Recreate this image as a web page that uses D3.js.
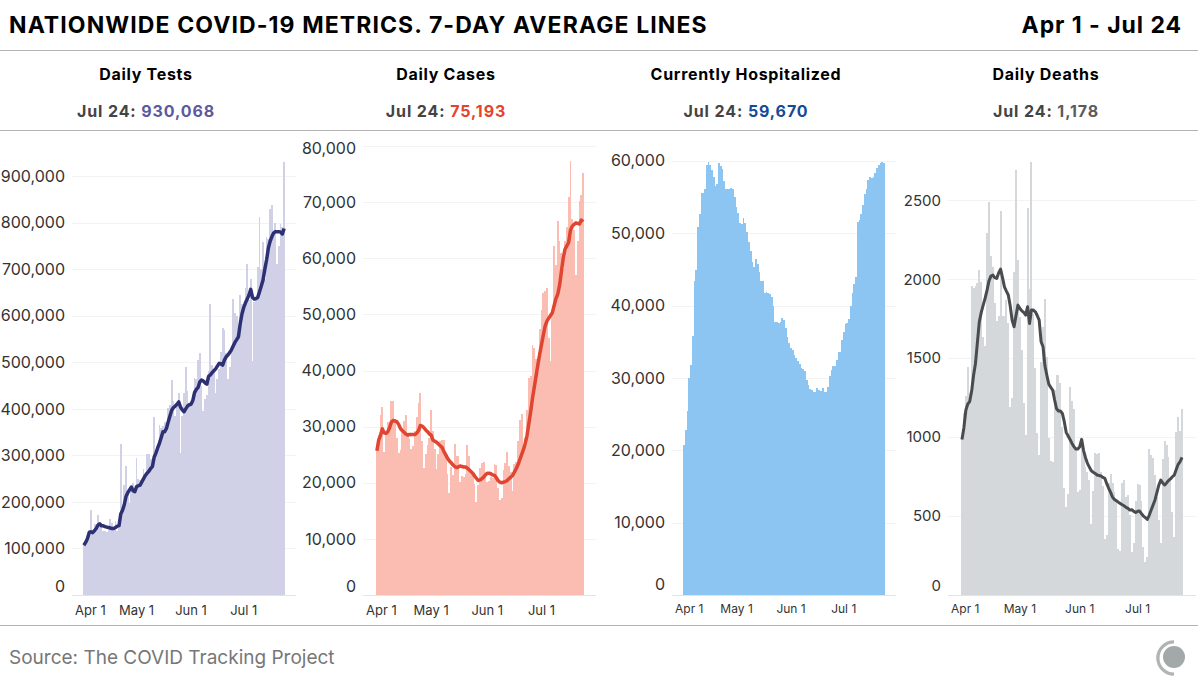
<!DOCTYPE html>
<html>
<head>
<meta charset="utf-8">
<title>Nationwide COVID-19 metrics</title>
<script src="https://cdn.jsdelivr.net/npm/d3@7"></script>
<style>
  html, body { margin: 0; background: #fff; }
  svg { display: block; font-family: Inter, sans-serif; }
  .rule { stroke: #b3b3b3; stroke-width: 1; shape-rendering: crispEdges; }
  .axis .domain { display: none; }
  .axis text { fill: #333; }
  .y.axis line { stroke: #f3f3f3; shape-rendering: crispEdges; }
  .y.axis .zero line { stroke: #e4e4e4; }
</style>
</head>
<body>
<svg id="chart" width="1198" height="687"></svg>
<script>
// Tick labels on the date axis. The days themselves are built further down.
const monthTicks = [ 'Apr 1', 'May 1', 'Jun 1', 'Jul 1' ];

// Values, one per day from Apr 1 to Jul 24.
const testsDaily = [
  107000, 118000, 125000, 140000, 183000, 135000, 152000, 153000, 172000, 155000,
  150000, 137000, 138000, 135000, 140000, 163000, 155000, 145000, 158000, 137000,
  160000, 325000, 190000, 236000, 278000, 225000, 197000, 235000, 240000, 222000,
  295000, 250000, 248000, 240000, 270000, 255000, 303000, 303000, 292000, 290000,
  383000, 305000, 320000, 365000, 360000, 363000, 372000, 350000, 402000, 408000,
  462000, 418000, 385000, 408000, 435000, 305000, 385000, 435000, 490000, 438000,
  410000, 410000, 430000, 467000, 465000, 505000, 520000, 450000, 395000, 422000,
  430000, 482000, 625000, 495000, 485000, 435000, 465000, 485000, 522000, 573000,
  570000, 520000, 465000, 490000, 525000, 637000, 607000, 600000, 560000, 645000,
  625000, 615000, 660000, 712000, 635000, 680000, 503000, 630000, 640000, 705000,
  812000, 700000, 758000, 680000, 770000, 765000, 830000, 838000, 770000, 800000,
  712000, 750000, 797000, 790000, 930068
];
const testsAverage = [
  107000, 113000, 121000, 134000, 136000, 134000, 138000, 143000, 150000, 153000,
  149000, 149000, 147000, 146000, 145000, 144000, 143000, 143000, 145000, 148000,
  149000, 174000, 182000, 194000, 212000, 220000, 226000, 232000, 224000, 222000,
  233000, 235000, 236000, 243000, 250000, 257000, 262000, 266000, 272000, 276000,
  296000, 305000, 316000, 326000, 338000, 351000, 351000, 358000, 372000, 385000,
  397000, 403000, 406000, 410000, 415000, 404000, 398000, 394000, 400000, 406000,
  409000, 410000, 418000, 435000, 442000, 446000, 458000, 462000, 460000, 456000,
  453000, 470000, 473000, 478000, 482000, 486000, 492000, 498000, 497000, 494000,
  505000, 512000, 516000, 521000, 527000, 535000, 543000, 549000, 555000, 583000,
  604000, 618000, 628000, 636000, 645000, 657000, 640000, 636000, 637000, 640000,
  652000, 664000, 677000, 700000, 720000, 745000, 760000, 770000, 778000, 781000,
  781000, 781000, 780000, 776000, 788000
];
const casesDaily = [
  26000, 28500, 32000, 33500, 25500, 29000, 30800, 30800, 34500, 34500,
  31000, 28000, 25300, 25800, 29000, 31000, 32000, 28500, 27800, 26000,
  26500, 29300, 31800, 34200, 36000, 27500, 22700, 25200, 26700, 28000,
  33000, 29200, 26000, 22500, 25200, 27500, 27600, 27700, 25000, 21500,
  18200, 22800, 21300, 26900, 24800, 24800, 20200, 21200, 21000, 21500,
  26700, 24700, 22000, 21700, 19700, 16600, 19600, 22700, 23500, 23700,
  21000, 20200, 20300, 21000, 20800, 23400, 23200, 19000, 17000, 17200,
  22200, 23500, 25400, 23000, 22000, 18500, 23400, 23700, 27500, 31200,
  32200, 26000, 28000, 33000, 38700, 39000, 44500, 44000, 42000, 40000,
  47400, 50700, 53800, 54200, 54700, 45800, 41700, 50000, 62200, 58800,
  66700, 63000, 61000, 58000, 63000, 65500, 71000, 77300, 67000, 65000,
  57000, 63000, 70200, 71200, 75193
];
const casesAverage = [
  25700, 27600, 28500, 29600, 28900, 28800, 29100, 29800, 30800, 31100,
  31000, 30900, 30400, 29700, 29300, 29000, 28700, 28500, 28600, 28600,
  28600, 28600, 28800, 29300, 30200, 30100, 29800, 29400, 29100, 28700,
  28500, 27600, 27400, 27200, 26900, 26600, 26300, 25600, 25000, 24400,
  23900, 23600, 23200, 22900, 22700, 22800, 23000, 22900, 22800, 22800,
  22600, 22300, 22000, 21700, 21200, 20800, 20400, 20500, 20700, 21000,
  21400, 21700, 21700, 21600, 21400, 21300, 20900, 20400, 20100, 20000,
  20100, 20200, 20400, 20700, 21000, 21300, 21900, 22500, 23200, 24100,
  25000, 25900, 27000, 28400, 30500, 32600, 35000, 37000, 39000, 41000,
  42900, 44600, 46300, 47900, 48800, 49300, 49800, 50300, 51600, 52800,
  53600, 55200, 57600, 60000, 61600, 62200, 62800, 65000, 65700, 66000,
  66300, 66200, 66100, 66800, 66500
];
const hospitalized = [
  20700, 22800, 25400, 30000, 31800, 35800, 43400, 45000, 50900, 52700,
  55600, 55600, 56100, 59500, 59900, 59400, 58800, 57800, 56500, 56800,
  59700, 59300, 58900, 57300, 56100, 56100, 56100, 56200, 56100, 55000,
  53600, 52800, 51400, 51300, 52100, 51400, 50200, 48800, 47600, 46100,
  45400, 46400, 45800, 44600, 43400, 43400, 41800, 41900, 41800, 41600,
  41200, 39900, 37800, 37700, 37600, 37700, 38300, 38000, 36900, 35600,
  34800, 34200, 33900, 33200, 32700, 32400, 31900, 31400, 31200, 31000,
  29700, 29000, 28500, 28400, 28000, 28100, 28600, 28300, 28200, 28600,
  28100, 28100, 28700, 30300, 31100, 31700, 31600, 32500, 33600, 33600,
  35200, 36300, 37500, 37600, 38100, 39900, 41700, 43000, 44000, 51500,
  51800, 52700, 53900, 55500, 56100, 57400, 57800, 57700, 57800, 58400,
  59000, 59400, 59700, 59900, 59670
];
const deathsDaily = [
  990, 1150, 1260, 1444, 1281, 1957, 1946, 1960, 1978, 2058,
  1984, 1636, 1577, 2290, 2490, 2147, 2075, 1847, 1737, 1767,
  2432, 1770, 1767, 1868, 1720, 1193, 1245, 2048, 2695, 2121,
  1758, 1552, 1214, 1013, 2451, 1936, 2740, 1780, 1435, 1028,
  887, 1478, 1700, 1872, 1509, 992, 851, 844, 1300, 1393,
  1393, 1340, 1066, 680, 559, 640, 1319, 1230, 1176, 930,
  654, 665, 970, 897, 813, 780, 728, 450, 658, 901,
  893, 901, 781, 690, 353, 380, 707, 766, 707, 654,
  600, 289, 281, 707, 728, 623, 633, 507, 272, 327,
  597, 703, 695, 597, 306, 211, 243, 925, 887, 866,
  760, 620, 475, 331, 861, 975, 950, 876, 740, 528,
  365, 1034, 1125, 1039, 1178
];
const deathsAverage = [
  985, 1060, 1170, 1210, 1225, 1290, 1390, 1467, 1600, 1731,
  1790, 1836, 1880, 1931, 1990, 2020, 2026, 2010, 2005, 2040,
  2064, 2010, 1952, 1925, 1900, 1830, 1740, 1699, 1770, 1836,
  1815, 1800, 1790, 1773, 1826, 1720, 1805, 1805, 1794, 1770,
  1741, 1604, 1572, 1450, 1390, 1335, 1315, 1298, 1235, 1180,
  1165, 1165, 1150, 1098, 1030, 1007, 985, 960, 940, 925,
  925, 939, 986, 915, 870, 834, 810, 787, 778, 770,
  760, 757, 754, 745, 739, 705, 676, 650, 620, 605,
  597, 588, 580, 572, 565, 555, 549, 538, 540, 530,
  523, 530, 532, 515, 500, 490, 479, 505, 538, 570,
  602, 650, 697, 728, 710, 697, 710, 725, 735, 749,
  760, 795, 828, 845, 872
];

// Y axis ticks for each panel.
const testsTicks  = [ 0, 100000, 200000, 300000, 400000, 500000, 600000, 700000, 800000, 900000 ];
const casesTicks  = [ 0, 10000, 20000, 30000, 40000, 50000, 60000, 70000, 80000 ];
const hospTicks   = [ 0, 10000, 20000, 30000, 40000, 50000, 60000 ];
const deathsTicks = [ 0, 500, 1000, 1500, 2000, 2500 ];

// Everything about the panels that is not data: where they sit and how they look.
const panels = [
  { title: 'Daily Tests', latest: '930,068', center: 146, bars: testsDaily, line: testsAverage, ticks: testsTicks, tickFormat: d3.format( ',' ),
    barLeft: 83, barRight: 285, gridLeft: 72, gridRight: 296, topTickY: 176.3, zeroDy: -9, topDy: 0,
    yFont: 16, xFont: 13, xLabelY: 610, barColor: '#d0d1e6', lineColor: '#2e3074', lineWidth: 3.5, latestColor: '#5a5a9e' },
  { title: 'Daily Cases', latest: '75,193', center: 446, bars: casesDaily, line: casesAverage, ticks: casesTicks, tickFormat: d3.format( ',' ),
    barLeft: 376, barRight: 584, gridLeft: 363, gridRight: 596, topTickY: 146, zeroDy: -9, topDy: 2,
    yFont: 16, xFont: 13, xLabelY: 610, barColor: '#fbbcb1', lineColor: '#df4531', lineWidth: 3.5, latestColor: '#e5432d' },
  { title: 'Currently Hospitalized', latest: '59,670', center: 746, bars: hospitalized, line: null, ticks: hospTicks, tickFormat: d3.format( ',' ),
    barLeft: 683, barRight: 885, gridLeft: 672, gridRight: 896, topTickY: 161, zeroDy: -11, topDy: -1,
    yFont: 16, xFont: 12, xLabelY: 609, barColor: '#8cc5f2', lineColor: null, lineWidth: 0, latestColor: '#164a96' },
  { title: 'Daily Deaths', latest: '1,178', center: 1046, bars: deathsDaily, line: deathsAverage, ticks: deathsTicks, tickFormat: d3.format( '' ),
    barLeft: 961, barRight: 1183, gridLeft: 948, gridRight: 1196, topTickY: 200.3, zeroDy: -9, topDy: 0,
    yFont: 15, xFont: 12, xLabelY: 609, barColor: '#d4d8da', lineColor: '#494c4f', lineWidth: 3, latestColor: '#595c5e' }
];

const baselineY = 595;
const labelDay  = d3.timeFormat( '%b %-d' );
const days      = d3.timeDay.range( new Date( 2020, 3, 1 ), new Date( 2020, 6, 25 ) ).map( labelDay );

const svg = d3.select( '#chart' );

// Draws the rules and the texts that frame the panels.
const drawFrame = ( ) => {
  [ 50, 130, 625 ].forEach( y => {
    svg.append( 'line' ).attr( 'class', 'rule' )
      .attr( 'x1', 0 ).attr( 'x2', 1198 ).attr( 'y1', y + 0.5 ).attr( 'y2', y + 0.5 );
  } );

  svg.append( 'text' )
    .attr( 'x', 9 ).attr( 'y', 33 )
    .attr( 'font-size', 23 ).attr( 'font-weight', 700 ).attr( 'letter-spacing', 1.1 )
    .attr( 'fill', '#000' )
    .text( 'NATIONWIDE COVID-19 METRICS. 7-DAY AVERAGE LINES' );

  svg.append( 'text' )
    .attr( 'x', 1182 ).attr( 'y', 33 ).attr( 'text-anchor', 'end' )
    .attr( 'font-size', 23 ).attr( 'font-weight', 700 ).attr( 'letter-spacing', 0.95 )
    .attr( 'fill', '#000' )
    .text( 'Apr 1 - Jul 24' );

  svg.append( 'text' )
    .attr( 'x', 9 ).attr( 'y', 664 )
    .attr( 'font-size', 19 ).attr( 'fill', '#777' )
    .text( 'Source: The COVID Tracking Project' );

  // The logo in the corner: a disc with an open ring round it.
  const logo = svg.append( 'g' ).attr( 'transform', 'translate( 1174, 658 )' );
  logo.append( 'path' )
    .attr( 'fill', '#b0b4b4' )
    .attr( 'd', d3.arc( )
      .innerRadius( 14.5 ).outerRadius( 17.8 )
      .startAngle( Math.PI ).endAngle( Math.PI * 2 )( ) );
  logo.append( 'circle' ).attr( 'r', 11 ).attr( 'cy', -1 ).attr( 'fill', '#a3a8a8' );
};

// Draws one panel: the heading, the axes, the bars and the average line.
const drawPanel = panel => {
  const g = svg.append( 'g' );

  g.append( 'text' )
    .attr( 'x', panel.center ).attr( 'y', 80 ).attr( 'text-anchor', 'middle' )
    .attr( 'font-size', 16 ).attr( 'font-weight', 700 ).attr( 'letter-spacing', 0.7 )
    .attr( 'fill', '#000' )
    .text( panel.title );

  const latest = g.append( 'text' )
    .attr( 'x', panel.center ).attr( 'y', 117 ).attr( 'text-anchor', 'middle' )
    .attr( 'font-size', 16 ).attr( 'font-weight', 700 ).attr( 'letter-spacing', 0.9 );
  latest.append( 'tspan' ).attr( 'fill', '#444' ).text( 'Jul 24: ' );
  latest.append( 'tspan' ).attr( 'fill', panel.latestColor ).text( panel.latest );

  const x = d3.scaleBand( )
    .domain( days )
    .range( [ panel.barLeft, panel.barRight ] );
  const topTick = panel.ticks[ panel.ticks.length - 1 ];
  const y = d3.scaleLinear( )
    .domain( [ 0, topTick ] )
    .range( [ baselineY, panel.topTickY ] );

  const yAxis = d3.axisLeft( y )
    .tickValues( panel.ticks )
    .tickFormat( panel.tickFormat )
    .tickSize( panel.gridLeft - panel.gridRight )
    .tickPadding( 7 );
  const yGroup = g.append( 'g' )
    .attr( 'class', 'y axis' )
    .attr( 'transform', `translate( ${panel.gridLeft}, 0 )` )
    .call( yAxis );
  yGroup.selectAll( '.tick' ).classed( 'zero', d => d === 0 );
  yGroup.selectAll( '.tick line' )
    .attr( 'x1', 0 ).attr( 'x2', panel.gridRight - panel.gridLeft );
  yGroup.selectAll( '.tick text' )
    .attr( 'x', -7 )
    .attr( 'font-size', panel.yFont )
    .attr( 'font-family', 'Inter, sans-serif' )
    .attr( 'transform', d => `translate( 0, ${ d === 0 ? panel.zeroDy : d === topTick ? panel.topDy : 0 } )` );

  const xAxis = d3.axisBottom( x )
    .tickValues( monthTicks )
    .tickSize( 0 )
    .tickPadding( 0 );
  const xGroup = g.append( 'g' )
    .attr( 'class', 'x axis' )
    .attr( 'transform', `translate( 0, ${panel.xLabelY} )` )
    .call( xAxis );
  xGroup.selectAll( '.tick text' )
    .attr( 'y', 0 )
    .attr( 'dy', '0.35em' )
    .attr( 'font-size', panel.xFont )
    .attr( 'font-family', 'Inter, sans-serif' );
  // The first label would hang over the left edge, so it starts at the edge instead.
  xGroup.selectAll( '.tick' ).filter( d => d === monthTicks[ 0 ] )
    .attr( 'transform', `translate( ${panel.gridLeft + 3}, 0 )` )
    .select( 'text' ).attr( 'text-anchor', 'start' );

  g.append( 'g' )
    .selectAll( 'rect' )
    .data( panel.bars )
    .join( 'rect' )
      .attr( 'x', ( d, i ) => x( days[ i ] ) )
      .attr( 'y', d => y( d ) )
      .attr( 'width', x.bandwidth( ) )
      .attr( 'height', d => baselineY - y( d ) )
      .attr( 'fill', panel.barColor )
      .attr( 'shape-rendering', 'crispEdges' );

  if ( panel.line ) {
    const line = d3.line( )
      .x( ( d, i ) => x( days[ i ] ) + x.bandwidth( ) / 2 )
      .y( d => y( d ) );
    g.append( 'path' )
      .attr( 'fill', 'none' )
      .attr( 'stroke', panel.lineColor )
      .attr( 'stroke-width', panel.lineWidth )
      .attr( 'stroke-linejoin', 'round' )
      .attr( 'd', line( panel.line ) );
  }
};

drawFrame( );
panels.forEach( drawPanel );
</script>
</body>
</html>
